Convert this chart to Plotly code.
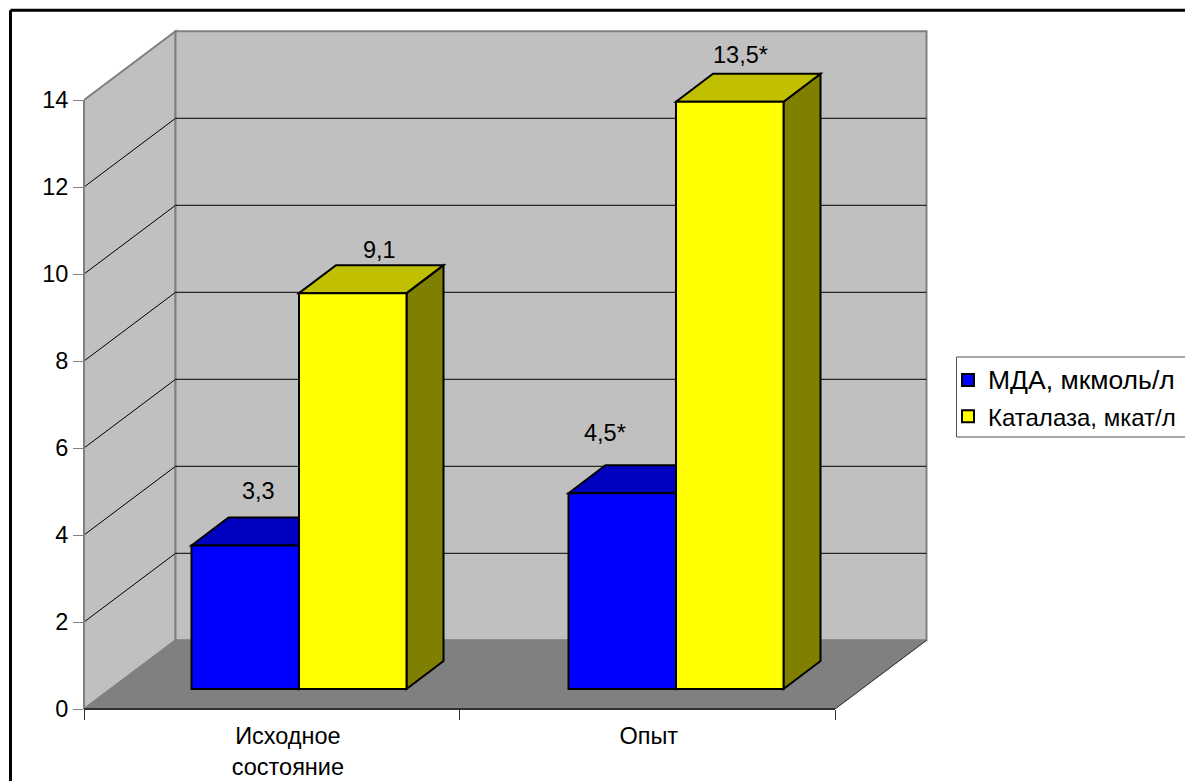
import plotly.graph_objects as go

# ---- data ----
categories = ["Исходное<br>состояние", "Опыт"]
series_names = ["МДА, мкмоль/л", "Каталаза, мкат/л"]
mda_values = [3.3, 4.5]
catalase_values = [9.1, 13.5]
mda_labels = ["3,3", "4,5*"]
catalase_labels = ["9,1", "13,5*"]
y_ticks = [0, 2, 4, 6, 8, 10, 12, 14]

# ---- style / layout ----
W, H = 1185, 781
ML, MR, MT, MB = 84, 255, 20, 72
PX_X = 375.5
PX_Y = 43.5
plot_w, plot_h = W - ML - MR, H - MT - MB
X_RANGE = [0, plot_w / PX_X]
Y_RANGE = [0, plot_h / PX_Y]

WALL_DX, WALL_DY = 91.5 / PX_X, 68.7 / PX_Y
BAR_DX, BAR_DY = 37 / PX_X, 28 / PX_Y
BAR_W = 107.5 / PX_X
BASE = 20 / PX_Y
LABEL_POS = [0.543, 1.504]
BAR_CENTER = [215 / PX_X, 592 / PX_X]

BLUE, BLUE_TOP, BLUE_SIDE = "#0000FF", "#0000C0", "#000080"
YEL, YEL_TOP, YEL_SIDE = "#FFFF00", "#C0C000", "#808000"
WALL, FLOOR, EDGE = "#C0C0C0", "#808080", "#808080"
FONT = "Liberation Sans, Arial, sans-serif"
TEXT_SIZE = 23.5
LEGEND_SIZES = [26.5, 24]


def poly(pts, fill, line="black", w=1, layer="between"):
    d = "M" + " L".join(f"{x},{y}" for x, y in pts) + " Z"
    return dict(type="path", path=d, xref="x", yref="y", fillcolor=fill,
                line=dict(color=line, width=w), layer=layer)


def seg(x0, y0, x1, y1, color="black", w=1, layer="below", xref="x", yref="y"):
    return dict(type="line", x0=x0, y0=y0, x1=x1, y1=y1, xref=xref, yref=yref,
                line=dict(color=color, width=w), layer=layer)


def px(x):
    return (x - ML) / plot_w


def py(y):
    return 1 - (y - MT) / plot_h


n = len(categories)
top_y = max(y_ticks) + WALL_DY
shapes = [
    poly([(0, 0), (0, max(y_ticks)), (WALL_DX, top_y), (WALL_DX, WALL_DY)], WALL, EDGE, 2, "below"),
    poly([(WALL_DX, WALL_DY), (WALL_DX, top_y), (n + WALL_DX, top_y), (n + WALL_DX, WALL_DY)], WALL, EDGE, 2, "below"),
    poly([(0, 0), (WALL_DX, WALL_DY), (n + WALL_DX, WALL_DY), (n, 0)], FLOOR, FLOOR, 1, "below"),
]
for t in y_ticks[1:-1]:
    shapes.append(seg(0, t, WALL_DX, t + WALL_DY))
    shapes.append(seg(WALL_DX, t + WALL_DY, n + WALL_DX, t + WALL_DY))
shapes.append(seg(n, 0, n + WALL_DX, WALL_DY, "#303030", 1))
shapes.append(seg(0, -0.23, 0, max(y_ticks), EDGE, 2, "above", xref="paper"))
shapes.append(seg(0, 0, n, 0, "#303030", 2, "above", yref="paper"))

for i, c in enumerate(BAR_CENTER):
    for vals, off, top, side in ((mda_values, -BAR_W, BLUE_TOP, BLUE_SIDE),
                                 (catalase_values, 0, YEL_TOP, YEL_SIDE)):
        v = vals[i] + BASE
        l, r = c + off, c + off + BAR_W
        shapes.append(poly([(r, BASE), (r + BAR_DX, BASE + BAR_DY), (r + BAR_DX, v + BAR_DY), (r, v)], side, w=2))
        shapes.append(poly([(l, v), (l + BAR_DX, v + BAR_DY), (r + BAR_DX, v + BAR_DY), (r, v)], top, w=2))

# frame round the chart
shapes.append(seg(px(10.5), py(781), px(10.5), py(10.3), "black", 3, "above", "paper", "paper"))
shapes.append(seg(px(10.5), py(10.3), px(1185), py(10.3), "black", 3, "above", "paper", "paper"))
# legend box
shapes.append(dict(type="rect", xref="paper", yref="paper", x0=px(956.5), x1=px(1195), y0=py(437), y1=py(357),
                   fillcolor="white", line=dict(color="#505050", width=1), layer="above"))

fig = go.Figure()
for name, vals, color, off, size in ((series_names[0], mda_values, BLUE, -BAR_W, LEGEND_SIZES[0]),
                                     (series_names[1], catalase_values, YEL, 0, LEGEND_SIZES[1])):
    fig.add_trace(go.Bar(name=f'<span style="font-size:{size}px">{name}</span>', x=BAR_CENTER, y=vals,
                         base=BASE, width=BAR_W, offset=off, legendgroup=name,
                         marker=dict(color=color, line=dict(color="black", width=2))))

LABEL_XSHIFT = [[13, -17], [27, 11]]
LABEL_YSHIFT = [[54, 60], [43, 47]]
annotations = []
for s, (vals, off, labels) in enumerate(((mda_values, -BAR_W / 2, mda_labels),
                                         (catalase_values, BAR_W / 2, catalase_labels))):
    for i, c in enumerate(BAR_CENTER):
        annotations.append(dict(x=c + off, y=vals[i] + BASE, xref="x", yref="y", text=labels[i],
                                showarrow=False, xanchor="center", yanchor="middle",
                                xshift=LABEL_XSHIFT[s][i], yshift=LABEL_YSHIFT[s][i],
                                font=dict(size=TEXT_SIZE, color="black")))

fig.update_layout(
    width=W, height=H, autosize=False,
    margin=dict(l=ML, r=MR, t=MT, b=MB, pad=0, autoexpand=False),
    paper_bgcolor="white", plot_bgcolor="white",
    font=dict(family=FONT, size=TEXT_SIZE, color="black"),
    barmode="overlay",
    shapes=shapes, annotations=annotations,
    showlegend=True,
    legend=dict(x=px(948), y=py(358), xanchor="left", yanchor="top",
                bgcolor="rgba(0,0,0,0)", borderwidth=0, tracegroupgap=2,
                itemwidth=30, font=dict(size=24), itemclick=False, itemdoubleclick=False),
    xaxis=dict(range=X_RANGE, tickmode="array", tickvals=LABEL_POS, ticktext=categories,
               ticks="outside", ticklen=6, tickcolor="rgba(0,0,0,0)", automargin=False,
               showgrid=False, zeroline=False, showline=False,
               tickfont=dict(size=TEXT_SIZE),
               minor=dict(ticks="outside", ticklen=10, tickwidth=1, tickcolor="#303030",
                          tick0=0, dtick=1, showgrid=False)),
    yaxis=dict(range=Y_RANGE, tickmode="array", tickvals=y_ticks, ticks="outside", ticklen=10,
               tickwidth=1, tickcolor=EDGE, showgrid=False, zeroline=False, showline=False,
               automargin=False, tickfont=dict(size=TEXT_SIZE)),
)

fig.write_html("out.html", config=dict(displayModeBar=False),
               post_script="document.body.style.margin='0';document.documentElement.style.overflow='hidden';")
